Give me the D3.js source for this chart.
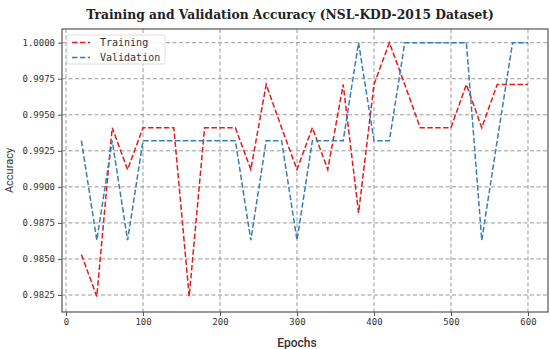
<!DOCTYPE html>
<html>
<head>
<meta charset="utf-8">
<script src="https://cdn.jsdelivr.net/npm/d3@7"></script>
<style>
  body { margin: 0; background: #fff; }
  .tick text { font-family: "DejaVu Sans Mono", monospace; font-size: 9px; fill: #333; }
</style>
</head>
<body>
<div id="chart"></div>
<script>
// data
const epochs = d3.range(20, 601, 20);
const trainAcc = [0.9853, 0.9824, 0.9941, 0.9912, 0.9941, 0.9941, 0.9941, 0.9824, 0.9941, 0.9941,
                  0.9941, 0.9912, 0.9971, 0.9941, 0.9912, 0.9941, 0.9912, 0.9971, 0.9882, 0.9971,
                  1.0000, 0.9971, 0.9941, 0.9941, 0.9941, 0.9971, 0.9941, 0.9971, 0.9971, 0.9971];
const valAcc = [0.9932, 0.9863, 0.9932, 0.9863, 0.9932, 0.9932, 0.9932, 0.9932, 0.9932, 0.9932,
                0.9932, 0.9863, 0.9932, 0.9932, 0.9863, 0.9932, 0.9932, 0.9932, 1.0000, 0.9932,
                0.9932, 1.0000, 1.0000, 1.0000, 1.0000, 1.0000, 0.9863, 0.9932, 1.0000, 1.0000];
const xTicks = [0, 100, 200, 300, 400, 500, 600];
const yTicks = [0.9825, 0.985, 0.9875, 0.99, 0.9925, 0.995, 0.9975, 1.0];
const series = [
    {name: "Training", values: trainAcc, color: "#e41a1c"},
    {name: "Validation", values: valAcc, color: "#377eb8"}
];

const width = 550, height = 349;
const margin = {top: 29, right: 2, bottom: 37, left: 62};

const svg = d3.select("#chart").append("svg")
    .attr("width", width)
    .attr("height", height);

const x = d3.scaleLinear()
    .domain([-5.2, 626])
    .range([margin.left, width - margin.right]);

const y = d3.scaleLinear()
    .domain([0.98132, 1.00095])
    .range([height - margin.bottom, margin.top]);

// grid
const grid = svg.append("g");
grid.selectAll(".vg").data(xTicks).enter().append("line")
    .attr("x1", d => x(d)).attr("x2", d => x(d))
    .attr("y1", margin.top).attr("y2", height - margin.bottom)
    .attr("stroke", "#999").attr("stroke-width", 1).attr("stroke-dasharray", "4,2.5");
grid.selectAll(".hg").data(yTicks).enter().append("line")
    .attr("x1", margin.left).attr("x2", width - margin.right)
    .attr("y1", d => y(d)).attr("y2", d => y(d))
    .attr("stroke", "#999").attr("stroke-width", 1).attr("stroke-dasharray", "4,2.5");

// lines
const line = d3.line()
    .x((d, i) => x(epochs[i]))
    .y(d => y(d));

svg.selectAll(".series").data(series).enter().append("path")
    .attr("d", d => line(d.values))
    .attr("fill", "none")
    .attr("stroke", d => d.color)
    .attr("stroke-width", 1.5)
    .attr("stroke-dasharray", "5.5,2.4");

// frame
svg.append("rect")
    .attr("x", margin.left).attr("y", margin.top)
    .attr("width", width - margin.right - margin.left)
    .attr("height", height - margin.bottom - margin.top)
    .attr("fill", "none").attr("stroke", "#555").attr("stroke-width", 1.2);

// axes
const xAxis = svg.append("g")
    .attr("transform", `translate(0,${height - margin.bottom})`)
    .call(d3.axisBottom(x).tickValues(xTicks).tickSize(4).tickPadding(3).tickFormat(d3.format("d")));
xAxis.select(".domain").remove();
xAxis.selectAll(".tick line").attr("stroke", "#555");

const yAxis = svg.append("g")
    .attr("transform", `translate(${margin.left},0)`)
    .call(d3.axisLeft(y).tickValues(yTicks).tickSize(4).tickPadding(3).tickFormat(d3.format(".4f")));
yAxis.select(".domain").remove();
yAxis.selectAll(".tick line").attr("stroke", "#555");

// labels
svg.append("text")
    .attr("x", 290).attr("y", 19)
    .attr("text-anchor", "middle")
    .style("font-family", "'DejaVu Serif', serif")
    .style("font-weight", "bold")
    .style("font-size", "12.3px")
    .attr("fill", "#222")
    .text("Training and Validation Accuracy (NSL-KDD-2015 Dataset)");

svg.append("text")
    .attr("x", x(300)).attr("y", 347)
    .attr("text-anchor", "middle")
    .style("font-family", "Roboto, sans-serif")
    .style("font-weight", "500")
    .style("font-size", "12px")
    .attr("fill", "#333")
    .text("Epochs");

svg.append("text")
    .attr("transform", `translate(13,${(margin.top + height - margin.bottom) / 2}) rotate(-90)`)
    .attr("text-anchor", "middle")
    .style("font-family", "Roboto, sans-serif")
    .style("font-size", "11px")
    .attr("fill", "#333")
    .text("Accuracy");

// legend
const legend = svg.append("g").attr("transform", "translate(67,35)");
legend.append("rect")
    .attr("width", 98).attr("height", 29).attr("rx", 2)
    .attr("fill", "#fff").attr("fill-opacity", 0.85)
    .attr("stroke", "#ddd");
series.forEach((s, i) => {
    legend.append("line")
        .attr("x1", 5).attr("x2", 23)
        .attr("y1", 7.5 + i * 15).attr("y2", 7.5 + i * 15)
        .attr("stroke", s.color).attr("stroke-width", 1.5)
        .attr("stroke-dasharray", "5.5,2.4");
    legend.append("text")
        .attr("x", 33).attr("y", 11 + i * 15)
        .style("font-family", "'DejaVu Sans Mono', monospace")
        .style("font-size", "10px")
        .attr("fill", "#333")
        .text(s.name);
});
</script>
</body>
</html>
